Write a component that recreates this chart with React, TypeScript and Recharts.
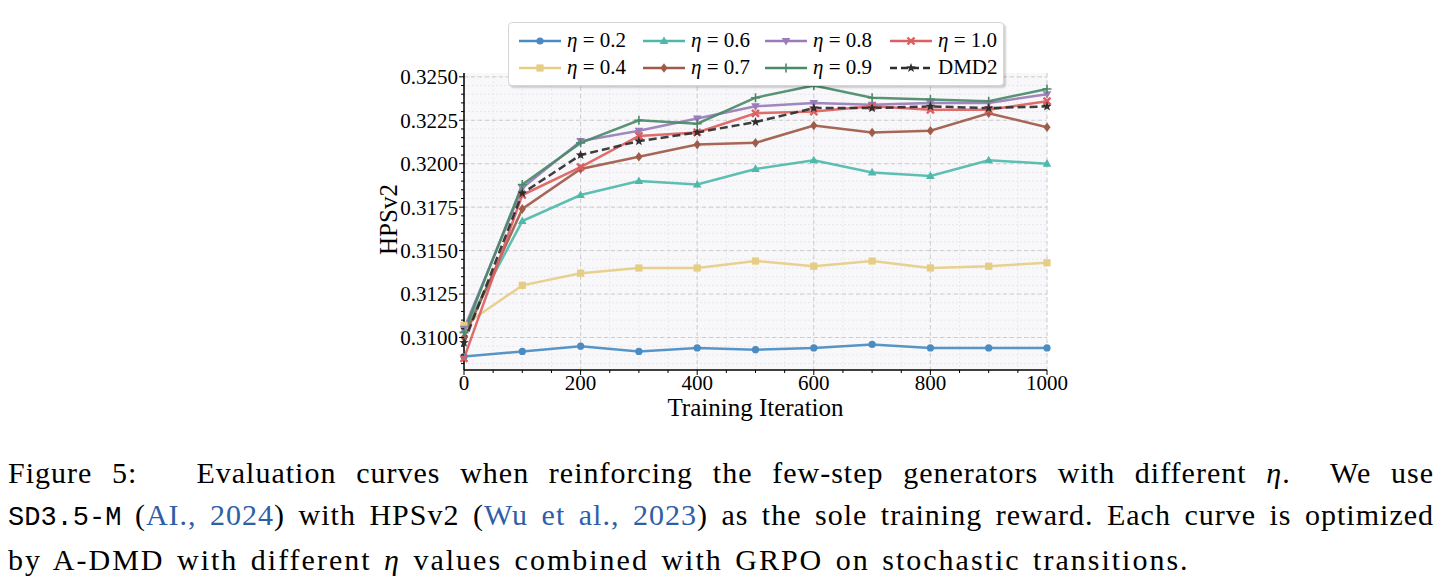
import { LineChart, Line, XAxis, YAxis, CartesianGrid, Legend } from "recharts";

// training iterations (x)
const ITERS = [0, 100, 200, 300, 400, 500, 600, 700, 800, 900, 1000];

// HPSv2 per eta
const ETA_02 = [0.3089, 0.3092, 0.3095, 0.3092, 0.3094, 0.3093, 0.3094, 0.3096, 0.3094, 0.3094, 0.3094];
const ETA_04 = [0.3107, 0.3130, 0.3137, 0.3140, 0.3140, 0.3144, 0.3141, 0.3144, 0.3140, 0.3141, 0.3143];
const ETA_06 = [0.3104, 0.3167, 0.3182, 0.3190, 0.3188, 0.3197, 0.3202, 0.3195, 0.3193, 0.3202, 0.3200];
const ETA_07 = [0.3100, 0.3174, 0.3197, 0.3204, 0.3211, 0.3212, 0.3222, 0.3218, 0.3219, 0.3229, 0.3221];
const ETA_08 = [0.3105, 0.3186, 0.3213, 0.3219, 0.3226, 0.3233, 0.3235, 0.3234, 0.3235, 0.3235, 0.3240];
const ETA_09 = [0.3103, 0.3188, 0.3212, 0.3225, 0.3223, 0.3238, 0.3245, 0.3238, 0.3237, 0.3236, 0.3243];
const ETA_10 = [0.3088, 0.3182, 0.3198, 0.3216, 0.3218, 0.3229, 0.3230, 0.3233, 0.3231, 0.3231, 0.3236];
const DMD2 = [0.3097, 0.3183, 0.3205, 0.3213, 0.3218, 0.3224, 0.3232, 0.3232, 0.3233, 0.3232, 0.3233];

// axis ticks (major + minor)
const X_TICKS = Array.from({ length: 21 }, (_, i) => i * 50);
const Y_TICKS = Array.from({ length: 34 }, (_, i) => +(0.3085 + i * 0.0005).toFixed(4));
const isMajorX = (v: number) => v % 200 === 0;
const isMajorY = (v: number) => Math.round(v * 10000) % 25 === 0;

type Shape = "circle" | "square" | "triUp" | "diamond" | "triDown" | "plus" | "x" | "star";

const SERIES: { key: string; eta: string; color: string; shape: Shape; dashed?: boolean }[] = [
  { key: "eta02", eta: "0.2", color: "#4a8cc2", shape: "circle" },
  { key: "eta04", eta: "0.4", color: "#e6cd84", shape: "square" },
  { key: "eta06", eta: "0.6", color: "#4fb8aa", shape: "triUp" },
  { key: "eta07", eta: "0.7", color: "#a05a48", shape: "diamond" },
  { key: "eta08", eta: "0.8", color: "#9a7cb8", shape: "triDown" },
  { key: "eta09", eta: "0.9", color: "#4a8a68", shape: "plus" },
  { key: "eta10", eta: "1.0", color: "#dd5f5f", shape: "x" },
  { key: "dmd2", eta: "", color: "#2e2e2e", shape: "star", dashed: true },
];

const data = ITERS.map((it, i) => ({
  iter: it,
  eta02: ETA_02[i],
  eta04: ETA_04[i],
  eta06: ETA_06[i],
  eta07: ETA_07[i],
  eta08: ETA_08[i],
  eta09: ETA_09[i],
  eta10: ETA_10[i],
  dmd2: DMD2[i],
}));

const SERIF = '"Liberation Serif", "Times New Roman", serif';

const Marker = ({ cx, cy, shape, color }: { cx: number; cy: number; shape: Shape; color: string }) => {
  switch (shape) {
    case "circle":
      return <circle cx={cx} cy={cy} r={3.6} fill={color} />;
    case "square":
      return <rect x={cx - 3.6} y={cy - 3.6} width={7.2} height={7.2} fill={color} />;
    case "triUp":
      return <polygon points={`${cx},${cy - 4.6} ${cx - 4.3},${cy + 3} ${cx + 4.3},${cy + 3}`} fill={color} />;
    case "triDown":
      return <polygon points={`${cx},${cy + 4.6} ${cx - 4.3},${cy - 3} ${cx + 4.3},${cy - 3}`} fill={color} />;
    case "diamond":
      return <polygon points={`${cx},${cy - 4.8} ${cx + 3.6},${cy} ${cx},${cy + 4.8} ${cx - 3.6},${cy}`} fill={color} />;
    case "plus":
      return (
        <g stroke={color} strokeWidth={1.6}>
          <line x1={cx - 4.5} y1={cy} x2={cx + 4.5} y2={cy} />
          <line x1={cx} y1={cy - 4.5} x2={cx} y2={cy + 4.5} />
        </g>
      );
    case "x":
      return (
        <g stroke={color} strokeWidth={2.4}>
          <line x1={cx - 3.5} y1={cy - 3.5} x2={cx + 3.5} y2={cy + 3.5} />
          <line x1={cx - 3.5} y1={cy + 3.5} x2={cx + 3.5} y2={cy - 3.5} />
        </g>
      );
    default: {
      const pts: string[] = [];
      for (let k = 0; k < 10; k++) {
        const r = k % 2 === 0 ? 5 : 2.1;
        const a = -Math.PI / 2 + (k * Math.PI) / 5;
        pts.push(`${cx + r * Math.cos(a)},${cy + r * Math.sin(a)}`);
      }
      return <polygon points={pts.join(" ")} fill={color} />;
    }
  }
};

const XTick = (props: any) => {
  const { x, y, payload } = props;
  const major = isMajorX(payload.value);
  return (
    <g>
      <line x1={x} y1={y} x2={x} y2={y + (major ? 5 : 3)} stroke="#000" strokeWidth={1} />
      {major && (
        <text x={x} y={y + 20} textAnchor="middle" fontSize={21} fontFamily={SERIF} fill="#000">
          {payload.value}
        </text>
      )}
    </g>
  );
};

const YTick = (props: any) => {
  const { x, y, payload } = props;
  const major = isMajorY(payload.value);
  return (
    <g>
      <line x1={x - (major ? 5 : 3)} y1={y} x2={x} y2={y} stroke="#000" strokeWidth={1} />
      {major && (
        <text x={x - 6} y={y} dy="0.35em" textAnchor="end" fontSize={21} fontFamily={SERIF} fill="#000">
          {payload.value.toFixed(4)}
        </text>
      )}
    </g>
  );
};

const renderLegend = () => (
  <div
    style={{
      background: "#fff",
      border: "1px solid #d6d6d6",
      borderRadius: 4,
      boxShadow: "2px 2px 2px rgba(0,0,0,0.18)",
      padding: "4px 0 4px 9px",
      display: "grid",
      gridTemplateColumns: "124px 122px 125px auto",
      gridAutoFlow: "column",
      gridTemplateRows: "27px 27px",
      fontFamily: SERIF,
      fontSize: 21,
      color: "#000",
    }}
  >
    {SERIES.map((s) => (
      <div key={s.key} style={{ display: "flex", alignItems: "center", whiteSpace: "nowrap" }}>
        <svg width={44} height={14} style={{ marginRight: 5 }}>
          <line
            x1={1}
            y1={7}
            x2={43}
            y2={7}
            stroke={s.color}
            strokeWidth={2.5}
            strokeDasharray={s.dashed ? "7 4" : undefined}
          />
          <Marker cx={22} cy={7} shape={s.shape} color={s.color} />
        </svg>
        {s.eta ? (
          <span>
            <i>η</i> = {s.eta}
          </span>
        ) : (
          <span>DMD2</span>
        )}
      </div>
    ))}
  </div>
);

const CITE = "#2f5ea8";

export default function App() {
  return (
    <div style={{ width: 1426 }}>
      <LineChart
        width={1426}
        height={422}
        data={data}
        margin={{ top: 65, right: 387, left: 376, bottom: 0 }}
        style={{ fontFamily: SERIF }}
      >
        <CartesianGrid
          fill="#f8f8fb"
          stroke="#e4e4ea"
          strokeDasharray="2 2"
          strokeWidth={0.8}
          horizontalValues={Y_TICKS}
          verticalValues={X_TICKS}
        />
        <CartesianGrid
          fill="none"
          stroke="#c8c8c8"
          strokeDasharray="4 3"
          strokeWidth={0.9}
          horizontalValues={Y_TICKS.filter(isMajorY)}
          verticalValues={X_TICKS.filter(isMajorX)}
        />
        <XAxis
          dataKey="iter"
          type="number"
          domain={[0, 1000]}
          ticks={X_TICKS}
          interval={0}
          height={60}
          tickSize={0}
          tickMargin={0}
          tickLine={false}
          tick={<XTick />}
          axisLine={{ stroke: "#000", strokeWidth: 1.5 }}
          label={{
            content: ({ viewBox }: any) => (
              <text
                x={viewBox.x + viewBox.width / 2}
                y={viewBox.y + 46}
                textAnchor="middle"
                fontSize={25}
                fontFamily={SERIF}
                fill="#000"
              >
                Training Iteration
              </text>
            ),
          }}
        />
        <YAxis
          type="number"
          domain={[0.30813, 0.32522]}
          allowDataOverflow
          ticks={Y_TICKS}
          interval={0}
          width={80}
          tickSize={0}
          tickMargin={0}
          tickLine={false}
          tick={<YTick />}
          axisLine={{ stroke: "#000", strokeWidth: 1.5 }}
          label={{
            content: ({ viewBox }: any) => {
              const cx = viewBox.x + 4;
              const cy = viewBox.y + viewBox.height / 2 - 2;
              return (
                <text
                  x={cx}
                  y={cy}
                  transform={`rotate(-90 ${cx} ${cy})`}
                  textAnchor="middle"
                  dominantBaseline="central"
                  fontSize={25}
                  fontFamily={SERIF}
                  fill="#000"
                >
                  HPSv2
                </text>
              );
            },
          }}
        />
        <Legend
          layout="horizontal"
          verticalAlign="middle"
          align="center"
          content={renderLegend}
          wrapperStyle={{ position: "absolute", left: 500, top: 14, width: 496 }}
        />
        {SERIES.map((s) => (
          <Line
            key={s.key}
            type="linear"
            dataKey={s.key}
            name={s.eta ? `η = ${s.eta}` : "DMD2"}
            stroke={s.color}
            strokeWidth={2.5}
            strokeOpacity={0.92}
            strokeDasharray={s.dashed ? "8 4" : undefined}
            isAnimationActive={false}
            activeDot={false}
            dot={(p: any) => (
              <Marker key={`${s.key}-${p.index}`} cx={p.cx} cy={p.cy} shape={s.shape} color={s.color} />
            )}
          />
        ))}
      </LineChart>
      <div
        style={{
          marginTop: 22,
          fontFamily: SERIF,
          fontSize: 30,
          lineHeight: "42px",
          color: "#000",
        }}
      >
        <div style={{ textAlign: "justify", textAlignLast: "justify", whiteSpace: "nowrap", letterSpacing: 1 }}>
          Figure 5:&nbsp;&nbsp; Evaluation curves when reinforcing the few-step generators with different <i>η</i>.&nbsp; We use
        </div>
        <div style={{ textAlign: "justify", textAlignLast: "justify", whiteSpace: "nowrap", letterSpacing: 1 }}>
          <span style={{ fontFamily: '"Liberation Mono", "DejaVu Sans Mono", monospace', fontSize: 27, letterSpacing: 0 }}>
            SD3.5-M
          </span>{" "}
          (<span style={{ color: CITE }}>AI., 2024</span>) with HPSv2 (
          <span style={{ color: CITE }}>Wu et al., 2023</span>) as the sole training reward. Each curve is optimized
        </div>
        <div style={{ letterSpacing: 2, wordSpacing: 3 }}>
          by A-DMD with different <i>η</i> values combined with GRPO on stochastic transitions.
        </div>
      </div>
    </div>
  );
}
